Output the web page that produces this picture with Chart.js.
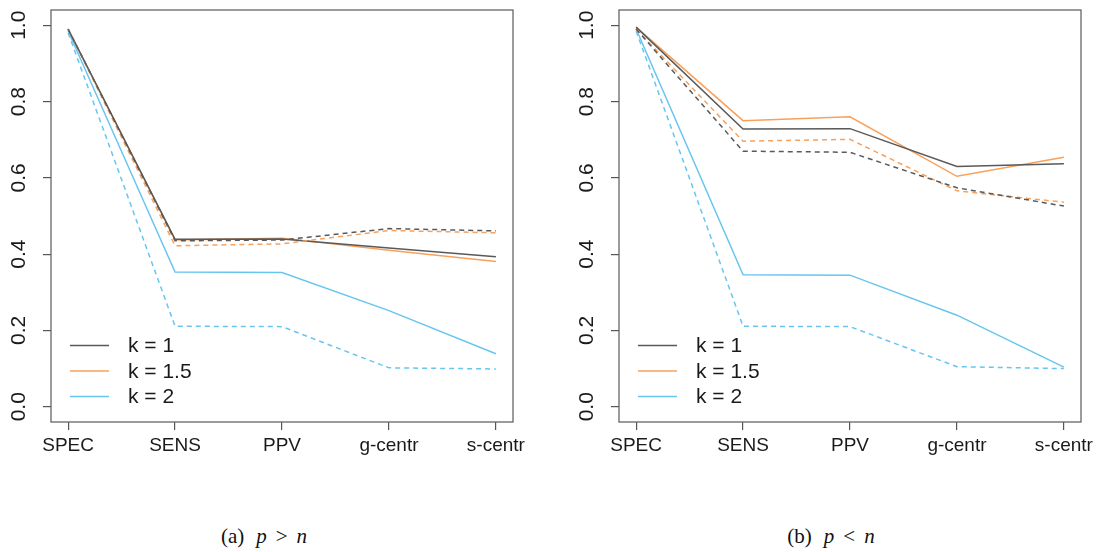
<!DOCTYPE html>
<html>
<head>
<meta charset="utf-8">
<script src="https://cdn.jsdelivr.net/npm/chart.js@4/dist/chart.umd.min.js"></script>
<style>
  body { margin: 0; background: #fff; width: 1099px; height: 552px; overflow: hidden; position: relative; }
  .panel { position: absolute; top: 0; height: 470px; }
  .caption { position: absolute; top: 524px; font-family: "Liberation Serif", "DejaVu Serif", serif; font-size: 21px; color: #111; transform: translateX(-50%); white-space: nowrap; }
  .caption i { font-style: italic; }
  .caption .g1 { display: inline-block; width: 12px; }
  .caption .g2 { display: inline-block; width: 9px; }
</style>
</head>
<body>
<div class="panel" style="left:0;width:550px"><canvas id="chartA"></canvas></div>
<div class="panel" style="left:550px;width:549px"><canvas id="chartB"></canvas></div>
<div class="caption" style="left:264px">(a)<span class="g1"></span><i>p</i><span class="g2"></span>&gt;<span class="g2"></span><i>n</i></div>
<div class="caption" style="left:831px">(b)<span class="g1"></span><i>p</i><span class="g2"></span>&lt;<span class="g2"></span><i>n</i></div>
<script>
const categories = ["SPEC", "SENS", "PPV", "g-centr", "s-centr"];
const yTicks = [0.0, 0.2, 0.4, 0.6, 0.8, 1.0];
const legendLabels = ["k = 1", "k = 1.5", "k = 2"];

// (a) p > n
const k1SolidA  = [0.990, 0.439, 0.440, 0.416, 0.393];
const k15SolidA = [0.990, 0.437, 0.442, 0.410, 0.381];
const k2SolidA  = [0.985, 0.353, 0.352, 0.252, 0.139];
const k1DashA   = [0.990, 0.435, 0.437, 0.467, 0.461];
const k15DashA  = [0.990, 0.422, 0.427, 0.462, 0.456];
const k2DashA   = [0.980, 0.211, 0.210, 0.102, 0.099];

// (b) p < n
const k1SolidB  = [0.995, 0.728, 0.729, 0.630, 0.637];
const k15SolidB = [0.995, 0.750, 0.760, 0.604, 0.654];
const k2SolidB  = [0.990, 0.346, 0.345, 0.240, 0.104];
const k1DashB   = [0.990, 0.670, 0.667, 0.574, 0.526];
const k15DashB  = [0.990, 0.696, 0.701, 0.566, 0.536];
const k2DashB   = [0.985, 0.211, 0.210, 0.105, 0.100];

const colors = ["#595959", "#f9a05a", "#67c5f0"];
const dash = [5, 4];

function serie(vals, color, dashed) {
  return {
    data: vals.map((v, i) => ({ x: i + 1, y: v })),
    borderColor: color,
    borderWidth: 1.5,
    borderDash: dashed ? dash : [],
    pointRadius: 0,
    tension: 0,
    fill: false
  };
}

// box, rotated y labels, legend
const rPlot = {
  id: "rPlot",
  afterDraw(chart) {
    const ctx = chart.ctx;
    const a = chart.chartArea;
    const ys = chart.scales.y;
    ctx.save();
    ctx.strokeStyle = "#666";
    ctx.lineWidth = 1.3;
    ctx.strokeRect(a.left, a.top, a.right - a.left, a.bottom - a.top);

    ctx.fillStyle = "#1a1a1a";
    ctx.font = "21px 'Liberation Sans', Arial, sans-serif";
    ctx.textAlign = "center";
    ctx.textBaseline = "middle";
    yTicks.forEach(v => {
      ctx.save();
      ctx.translate(a.left - 32, ys.getPixelForValue(v));
      ctx.rotate(-Math.PI / 2);
      ctx.fillText(v.toFixed(1), 0, 0);
      ctx.restore();
    });

    ctx.font = "21px 'Liberation Sans', Arial, sans-serif";
    ctx.textAlign = "left";
    legendLabels.forEach((lab, i) => {
      const y = 345.5 + i * 25.5;
      ctx.strokeStyle = colors[i];
      ctx.lineWidth = 1.5;
      ctx.beginPath();
      ctx.moveTo(a.left + 19, y);
      ctx.lineTo(a.left + 58, y);
      ctx.stroke();
      ctx.fillText(lab, a.left + 77, y + 1);
    });
    ctx.restore();
  }
};

function makeChart(id, sets, yWidth, padRight) {
  return new Chart(document.getElementById(id), {
    type: "line",
    data: {
      datasets: [
        serie(sets[3], colors[0], true),
        serie(sets[4], colors[1], true),
        serie(sets[5], colors[2], true),
        serie(sets[0], colors[0], false),
        serie(sets[1], colors[1], false),
        serie(sets[2], colors[2], false)
      ]
    },
    options: {
      responsive: false,
      animation: false,
      layout: { padding: { top: 10, right: padRight, left: 0, bottom: 0 } },
      plugins: { legend: { display: false }, tooltip: { enabled: false } },
      scales: {
        x: {
          type: "linear",
          min: 0.84,
          max: 5.16,
          afterBuildTicks: s => { s.ticks = categories.map((c, i) => ({ value: i + 1 })); },
          afterFit: s => { s.height = 48; },
          border: { display: false },
          grid: { drawOnChartArea: false, drawTicks: true, tickLength: 8, color: "#555", lineWidth: 1.2 },
          ticks: {
            autoSkip: false,
            maxRotation: 0,
            padding: 4,
            color: "#1a1a1a",
            font: { family: "'Liberation Sans', Arial, sans-serif", size: 19 },
            callback: v => categories[v - 1]
          }
        },
        y: {
          min: -0.04,
          max: 1.04,
          afterBuildTicks: s => { s.ticks = yTicks.map(v => ({ value: v })); },
          afterFit: s => { s.width = yWidth; },
          border: { display: false },
          grid: { drawOnChartArea: false, drawTicks: true, tickLength: 8, color: "#555", lineWidth: 1.2 },
          ticks: { display: false }
        }
      }
    },
    plugins: [rPlot]
  });
}

const cA = document.getElementById("chartA");
cA.width = 550; cA.height = 470;
const cB = document.getElementById("chartB");
cB.width = 549; cB.height = 470;

makeChart("chartA", [k1SolidA, k15SolidA, k2SolidA, k1DashA, k15DashA, k2DashA], 51, 37);
makeChart("chartB", [k1SolidB, k15SolidB, k2SolidB, k1DashB, k15DashB, k2DashB], 69, 18);
</script>
</body>
</html>
